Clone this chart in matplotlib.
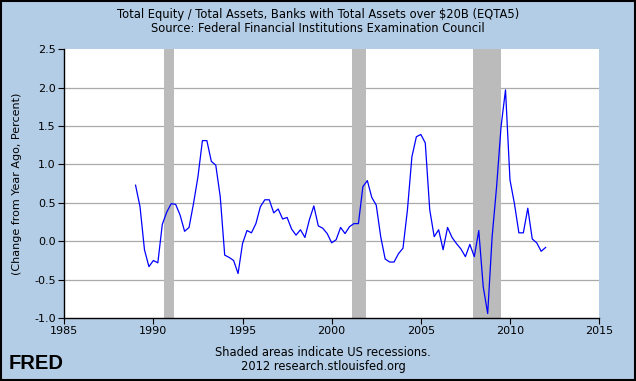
import numpy as np
import matplotlib.pyplot as plt
from matplotlib.patches import Rectangle

# quarterly values, 1989Q1 .. 2012Q1
values = [0.73, 0.45, -0.11, -0.33, -0.25, -0.28, 0.22, 0.38, 0.49, 0.48,
          0.34, 0.13, 0.18, 0.49, 0.84, 1.31, 1.31, 1.04, 0.99, 0.58,
          -0.18, -0.21, -0.25, -0.42, -0.03, 0.14, 0.11, 0.23, 0.45, 0.54,
          0.54, 0.37, 0.42, 0.29, 0.31, 0.16, 0.08, 0.15, 0.05, 0.28,
          0.46, 0.20, 0.17, 0.10, -0.02, 0.02, 0.18, 0.10, 0.19, 0.23,
          0.23, 0.71, 0.79, 0.57, 0.47, 0.06, -0.23, -0.27, -0.27, -0.16,
          -0.09, 0.41, 1.10, 1.36, 1.39, 1.28, 0.41, 0.06, 0.15, -0.11,
          0.18, 0.05, -0.03, -0.10, -0.20, -0.04, -0.20, 0.14, -0.59, -0.94,
          0.06, 0.71, 1.49, 1.97, 0.80, 0.49, 0.11, 0.11, 0.43, 0.03,
          -0.02, -0.13, -0.08]
years = 1989 + 0.25 * np.arange(len(values))

rec_start = [1990.583, 2001.167, 2007.917]
rec_end = [1991.167, 2001.917, 2009.5]

xticks = [1985, 1990, 1995, 2000, 2005, 2010, 2015]
yticks = [-1.0, -0.5, 0.0, 0.5, 1.0, 1.5, 2.0, 2.5]

bg = '#B4CDE6'
fig = plt.figure(figsize=(6.36, 3.81), dpi=100, facecolor=bg)
ax = fig.add_axes([0.101, 0.165, 0.841, 0.706])
ax.set_facecolor('white')

for s, e in zip(rec_start, rec_end):
    ax.axvspan(s, e, color='#BBBBBB', lw=0, zorder=1)
for t in yticks[1:-1]:
    ax.axhline(t, color='#AAAAAA', lw=0.9, zorder=0.5)

ax.plot(years, values, color='#0000FF', lw=0.9, zorder=3)

ax.set_xlim(1985, 2015)
ax.set_ylim(-1.0, 2.5)
ax.set_xticks(xticks)
ax.set_yticks(yticks)
ax.set_yticklabels(['%.1f' % t for t in yticks])
ax.tick_params(labelsize=8, length=4, width=0.8, color='black', pad=2)
for side in ['top', 'right']:
    ax.spines[side].set_visible(False)
for side in ['left', 'bottom']:
    ax.spines[side].set_linewidth(1.0)
ax.set_ylabel('(Change from Year Ago, Percent)', fontsize=8, labelpad=9)

fig.text(0.5, 0.962, 'Total Equity / Total Assets, Banks with Total Assets over $20B (EQTA5)',
         ha='center', va='center', fontsize=8.3)
fig.text(0.5, 0.925, 'Source: Federal Financial Institutions Examination Council',
         ha='center', va='center', fontsize=8.3)
fig.text(0.508, 0.076, 'Shaded areas indicate US recessions.',
         ha='center', va='center', fontsize=8.3)
fig.text(0.508, 0.037, '2012 research.stlouisfed.org',
         ha='center', va='center', fontsize=8.3)
fig.text(0.013, 0.045, 'FRED', ha='left', va='center', fontsize=14.5,
         fontweight='bold', family='Liberation Sans')

fig.patches.append(Rectangle((0.002, 0.003), 0.996, 0.994, transform=fig.transFigure,
                             fill=False, edgecolor='black', lw=1.5))

fig.savefig('out.png', dpi=100, facecolor=bg)
